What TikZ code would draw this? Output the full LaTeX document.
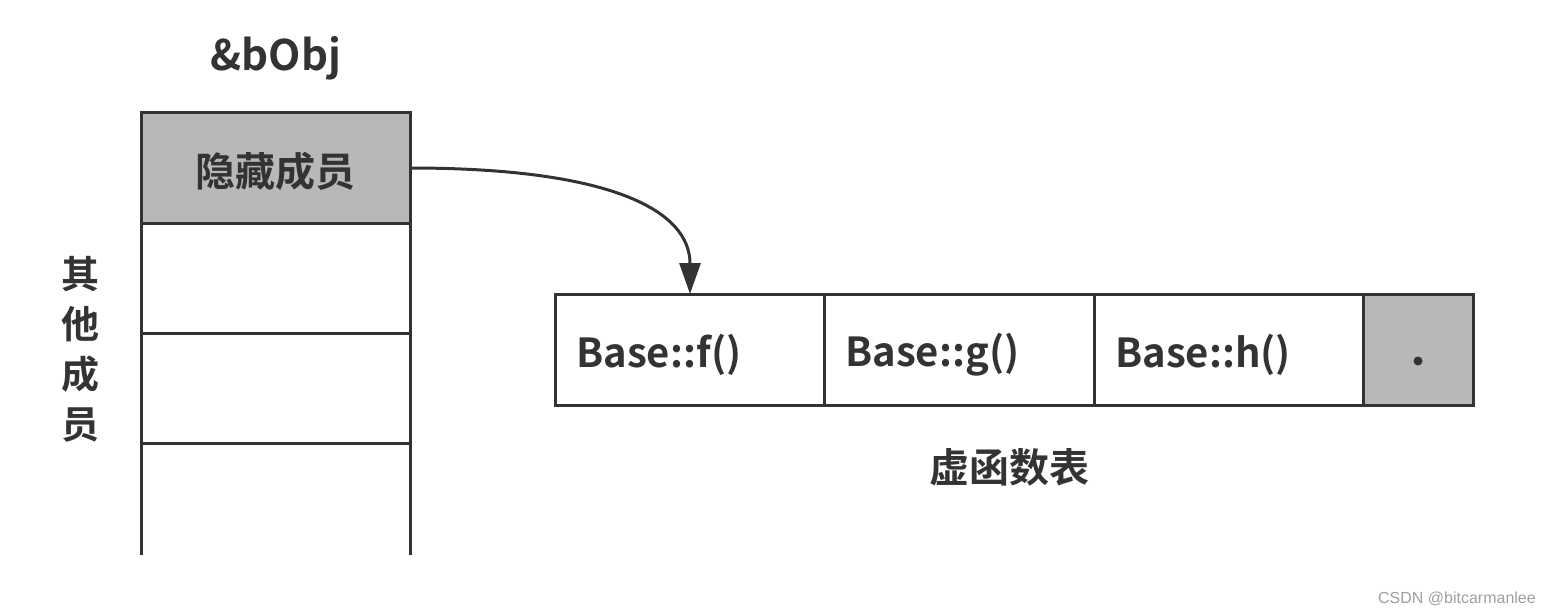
\documentclass[tikz,border=0pt]{standalone}
\usepackage{fontspec}
\setmainfont{Noto Sans CJK SC}[BoldFont={Noto Sans CJK SC Bold}]
\newfontfamily\wmfont{Liberation Sans}
\usetikzlibrary{arrows.meta}
\definecolor{ink}{HTML}{333333}
\definecolor{cellgray}{HTML}{B8B8B8}
\begin{document}
\begin{tikzpicture}[x=1pt,y=-1pt,
  cell/.style={draw=ink,line width=3pt,inner sep=0pt,outer sep=0pt,anchor=north west},
  lbl/.style={text=ink,font=\bfseries\fontsize{40}{44}\selectfont,inner sep=0pt},
  tlbl/.style={text=ink,font=\bfseries\fontsize{40}{44}\selectfont,inner sep=0pt,anchor=west}]
\useasboundingbox (0,0) rectangle (1551,615);
% left column
\node[cell,fill=cellgray,minimum width=269pt,minimum height=110pt] (hid) at (141,113) {};
\node[cell,minimum width=269pt,minimum height=110pt] (r2) at (141,223) {};
\node[cell,minimum width=269pt,minimum height=110pt] (r3) at (141,333) {};
\draw[ink,line width=3pt] (r3.south west) -- ++(0,112) coordinate (bl);
\draw[ink,line width=3pt] (r3.south east) -- ++(0,112) coordinate (br);
\node[lbl] at ([yshift=-3pt]hid.center) {隐藏成员};
\node[lbl,font=\bfseries\fontsize{42}{46}\selectfont] (obj) at (276,58) {\&bObj};
\node[lbl,align=center,font=\bfseries\fontsize{38}{50}\selectfont] (other) at (80,349) {其\\他\\成\\员};
% table
\node[cell,minimum width=269pt,minimum height=111pt] (f) at (555,294) {};
\node[cell,minimum width=270pt,minimum height=111pt] (g) at (824,294) {};
\node[cell,minimum width=269pt,minimum height=111pt] (h) at (1094,294) {};
\node[cell,fill=cellgray,minimum width=110pt,minimum height=111pt] (dot) at (1363,294) {};
\node[tlbl] at ([xshift=21pt,yshift=-5pt]f.west) {Base::f()};
\node[tlbl] at ([xshift=21pt,yshift=-5pt]g.west) {Base::g()};
\node[tlbl] at ([xshift=21pt,yshift=-5pt]h.west) {Base::h()};
\fill[ink] (1418,361) circle (4.5pt);
\node[lbl] (vt) at (1009,467) {虚函数表};
% arrow
\coordinate (tip) at (690,294);
\draw[ink,line width=3pt,-{Triangle[length=31pt,width=21pt]}] (hid.east) .. controls (610,168) and (690,210) .. (tip);
% watermark
\node[anchor=east,text=gray!75,font=\wmfont\fontsize{16}{18}\selectfont,inner sep=0pt] (wm) at (1536,599) {CSDN @bitcarmanlee};
\end{tikzpicture}
\end{document}
